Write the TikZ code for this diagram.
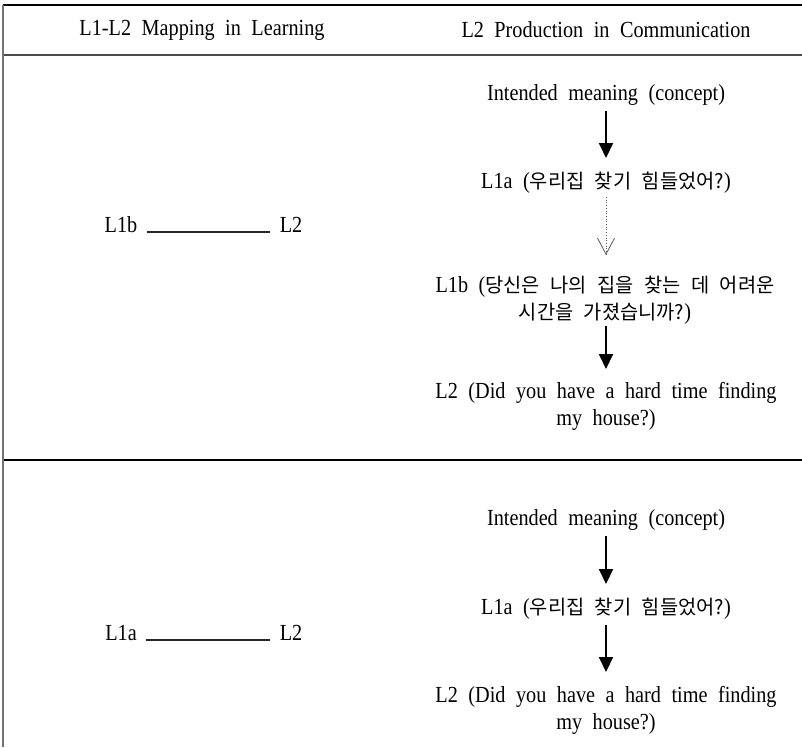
\documentclass[tikz,border=0pt]{standalone}
\usepackage{fontspec}
\setmainfont[FakeStretch=0.88]{Liberation Serif}
\newfontfamily\kr[Scale=0.86]{Noto Sans CJK KR}
\usetikzlibrary{arrows.meta}
\newcommand\widesp{\spaceskip=10.5pt\relax}
\begin{document}
\begin{tikzpicture}[x=1pt,y=-1pt,
  txt/.style={font=\fontsize{23}{27}\selectfont, execute at begin node=\widesp, inner sep=0pt, align=center},
  solidarrow/.style={line width=2pt, -{Triangle[length=15pt,width=14pt]}},
  dotarrow/.style={black!65, line width=0.7pt, dotted, -{Straight Barb[length=16pt,width=17pt,line width=0.8pt,sharp]}},
  rule/.style={line width=1.4pt},
  link/.style={line width=1.1pt, black!85}]
\useasboundingbox (0,0) rectangle (802,747);
% table lines
\draw[rule] (3,5) -- (802,5);
\draw[rule, black!70] (3,55) -- (802,55);
\draw[rule] (3,460) -- (802,460);
\draw[line width=2pt, black!55] (3,5) -- (3,747);
% header
\node[txt] (h1) at (202,30) {L1-L2 Mapping in Learning};
\node[txt] (h2) at (606,30) {L2 Production in Communication};
% row 1 left
\node[txt, anchor=base] (a1) at (121,232) {L1b};
\node[txt, anchor=base] (a2) at (291,232) {L2};
\draw[link] ([xshift=9pt]a1.base east) coordinate (a1e) -- ([xshift=-10pt]a2.base west) coordinate (a2s);
% row 1 right
\node[txt] (r1a) at (606,95) {Intended meaning (concept)};
\node[txt] (r1b) at (606,183) {L1a ({\kr 우리집 찾기 힘들었어?})};
\node[txt] (r1c) at (605,300) {L1b ({\kr 당신은 나의 집을 찾는 데 어려운}\\{\kr 시간을 가졌습니까?})};
\node[txt] (r1d) at (606,406) {L2 (Did you have a hard time finding\\my house?)};
\draw[solidarrow, shorten <=16pt, shorten >=25pt] (r1a.center) -- (r1b.center);
\draw[dotarrow, shorten <=14pt, shorten >=45pt] (r1b.center) -- (r1b.center |- r1c.center);
\draw[solidarrow, shorten <=26pt, shorten >=37pt] (r1d.center |- r1c.center) -- (r1d.center);
% row 2 left
\node[txt, anchor=base] (b1) at (121,640) {L1a};
\node[txt, anchor=base] (b2) at (291,640) {L2};
\draw[link] ([xshift=9pt]b1.base east) coordinate (b1e) -- ([xshift=-10pt]b2.base west) coordinate (b2s);
% row 2 right
\node[txt] (r2a) at (606,520) {Intended meaning (concept)};
\node[txt] (r2b) at (606,609) {L1a ({\kr 우리집 찾기 힘들었어?})};
\node[txt] (r2d) at (606,710) {L2 (Did you have a hard time finding\\my house?)};
\draw[solidarrow, shorten <=16pt, shorten >=25pt] (r2a.center) -- (r2b.center);
\draw[solidarrow, shorten <=16pt, shorten >=38pt] (r2b.center) -- (r2b.center |- r2d.center);
\end{tikzpicture}
\end{document}
